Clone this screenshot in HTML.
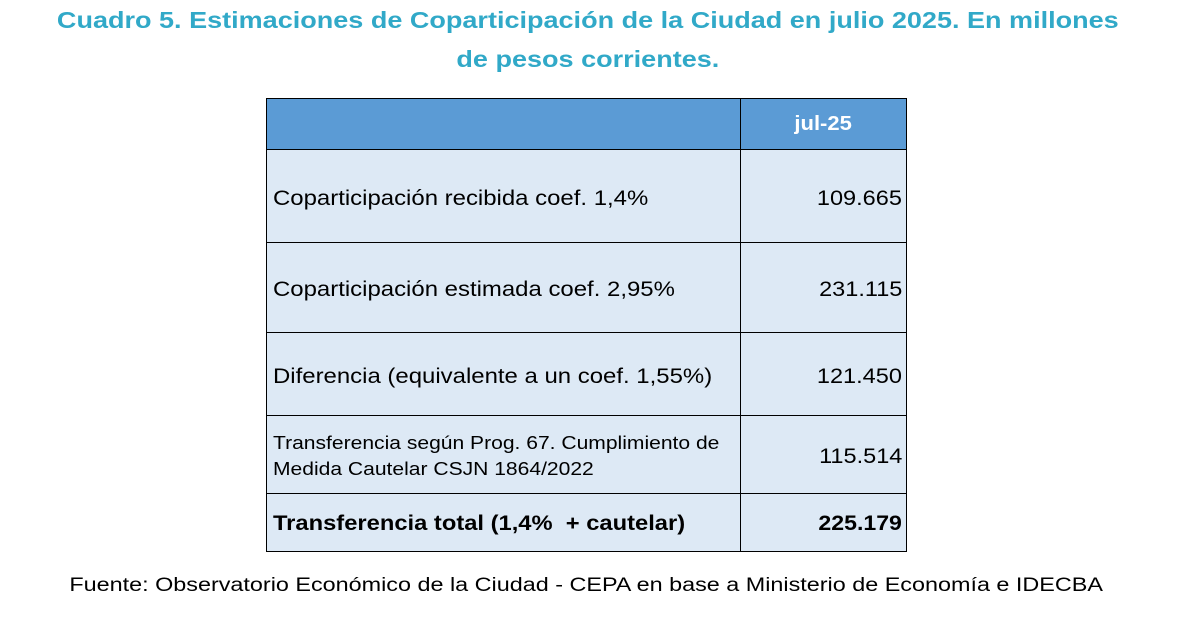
<!DOCTYPE html>
<html><head><meta charset="utf-8"><style>
body{margin:0;width:1199px;height:633px;background:#fff;position:relative;font-family:"Liberation Sans",sans-serif;overflow:hidden}
.t{position:absolute;left:-12px;width:1199px;text-align:center;color:#31a9c8;font-weight:bold;font-size:23px}
.t span,.f span{display:inline-block;transform-origin:center}
.c{position:absolute;box-sizing:border-box;border:1.5px solid #000;background:#dde9f5;font-size:21px;color:#000;display:flex;align-items:center;padding-top:5px}
.l{left:266px;width:475px;padding-left:6px}
.l span{display:inline-block;transform-origin:left center;white-space:nowrap}
.r{left:740px;width:167px;justify-content:flex-end;padding-right:4px}
.r span{display:inline-block;transform-origin:right center}
.h{background:#5b9bd5}
.f{position:absolute;top:575px;left:0;width:1173px;text-align:center;font-size:19px;color:#000}
</style></head><body>
<div class="t" style="top:7px"><span style="transform:scaleX(1.175)">Cuadro 5. Estimaciones de Coparticipación de la Ciudad en julio 2025. En millones</span></div>
<div class="t" style="top:46px"><span style="transform:scaleX(1.175)">de pesos corrientes.</span></div>
<div class="c l h" style="top:98px;height:52px"></div>
<div class="c r h" style="top:98px;height:52px;justify-content:center;color:#fff;font-weight:bold;font-size:20px;padding:0"><span style="transform:scaleX(1.1);transform-origin:center">jul-25</span></div>
<div class="c l" style="top:149px;height:94px"><span style="transform:scaleX(1.14)">Coparticipación recibida coef. 1,4%</span></div>
<div class="c r" style="top:149px;height:94px"><span style="transform:scaleX(1.12)">109.665</span></div>
<div class="c l" style="top:242px;height:91px"><span style="transform:scaleX(1.14)">Coparticipación estimada coef. 2,95%</span></div>
<div class="c r" style="top:242px;height:91px"><span style="transform:scaleX(1.12)">231.115</span></div>
<div class="c l" style="top:332px;height:84px"><span style="transform:scaleX(1.14)">Diferencia (equivalente a un coef. 1,55%)</span></div>
<div class="c r" style="top:332px;height:84px"><span style="transform:scaleX(1.12)">121.450</span></div>
<div class="c l" style="top:415px;height:79px;font-size:18px;line-height:26px;padding-top:2px"><span style="transform:scaleX(1.17)">Transferencia según Prog. 67. Cumplimiento de<br>Medida Cautelar CSJN 1864/2022</span></div>
<div class="c r" style="top:415px;height:79px"><span style="transform:scaleX(1.12)">115.514</span></div>
<div class="c l" style="top:493px;height:59px;font-weight:bold;padding-top:3px"><span style="transform:scaleX(1.13)">Transferencia total (1,4%&nbsp; + cautelar)</span></div>
<div class="c r" style="top:493px;height:59px;font-weight:bold;padding-top:3px"><span style="transform:scaleX(1.1)">225.179</span></div>
<div class="f"><span style="transform:scaleX(1.23)">Fuente: Observatorio Económico de la Ciudad - CEPA en base a Ministerio de Economía e IDECBA</span></div>
</body></html>
